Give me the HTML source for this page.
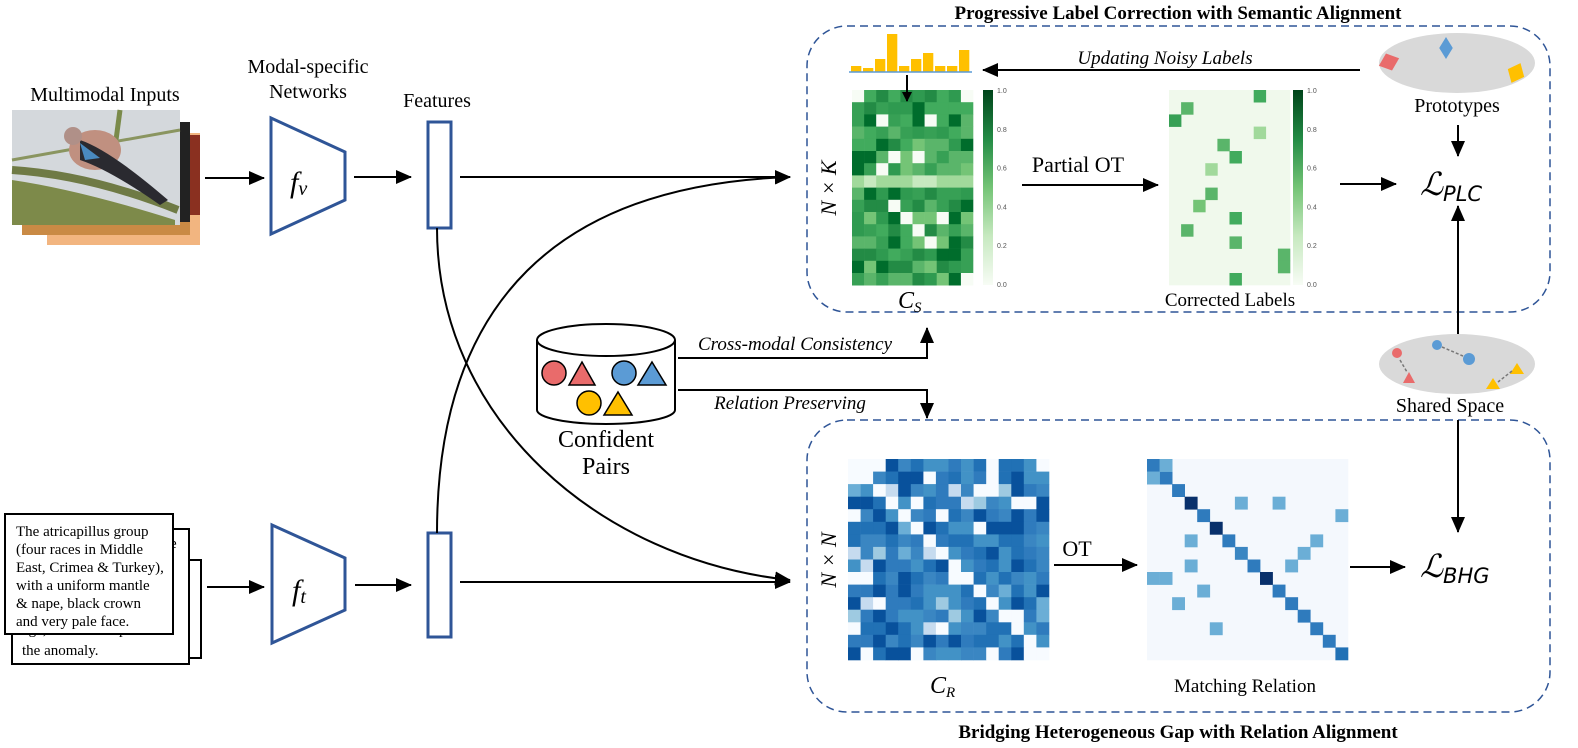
<!DOCTYPE html>
<html><head><meta charset="utf-8"><style>
html,body{margin:0;padding:0;background:#fff;}
svg{display:block;font-family:"Liberation Serif",serif;}
</style></head><body>
<svg id="s" width="1578" height="748" viewBox="0 0 1578 748" xmlns="http://www.w3.org/2000/svg">
<defs>
<marker id="ah" markerWidth="10" markerHeight="10" refX="9" refY="5" orient="auto" markerUnits="userSpaceOnUse"><path d="M0,0 L10,5 L0,10 z" fill="#000"/></marker>
<marker id="ah2" markerWidth="16" markerHeight="14" refX="15" refY="7" orient="auto" markerUnits="userSpaceOnUse"><path d="M0,0 L16,7 L0,14 z" fill="#000"/></marker>
<linearGradient id="gg" x1="0" y1="0" x2="0" y2="1"><stop offset="0" stop-color="#00441b"/><stop offset="0.25" stop-color="#238b45"/><stop offset="0.5" stop-color="#74c476"/><stop offset="0.75" stop-color="#c7e9c0"/><stop offset="1" stop-color="#f7fcf5"/></linearGradient>
</defs>
<rect x="807" y="26" width="743" height="286" rx="40" fill="none" stroke="#2f5597" stroke-width="1.5" stroke-dasharray="8,5"/>
<rect x="807" y="420" width="743" height="292" rx="40" fill="none" stroke="#2f5597" stroke-width="1.5" stroke-dasharray="8,5"/>
<text x="1178" y="19" font-size="19" font-weight="bold" text-anchor="middle">Progressive Label Correction with Semantic Alignment</text>
<text x="1178" y="738" font-size="19" font-weight="bold" text-anchor="middle">Bridging Heterogeneous Gap with Relation Alignment</text>

<rect x="47" y="133" width="153" height="112" fill="#f2b580"/>
<rect x="22" y="125" width="168" height="110" fill="#c98a45"/>
<rect x="170" y="122" width="20" height="100" fill="#222"/>
<rect x="190" y="135" width="10" height="80" fill="#8a3020"/>
<rect x="12" y="110" width="168" height="115" fill="#d4d8dc"/>
<path d="M12,180 Q80,190 175,220 L175,225 L12,225 z" fill="#7d8a4a"/>
<path d="M12,170 Q90,175 178,210" stroke="#6f7a45" stroke-width="8" fill="none"/>
<path d="M120,110 L112,170" stroke="#7a8a4a" stroke-width="5"/>
<path d="M12,160 L180,130" stroke="#8a9560" stroke-width="3"/>
<ellipse cx="95" cy="150" rx="26" ry="20" fill="#c09080"/>
<path d="M80,140 Q110,150 168,200 L160,205 Q110,170 80,160z" fill="#2a2a30"/>
<path d="M80,143 L100,158 L85,160z" fill="#4a8ac0"/>
<circle cx="73" cy="136" r="9" fill="#b09088"/>
<text x="105" y="101" font-size="20" text-anchor="middle">Multimodal Inputs</text>
<text x="308" y="73" font-size="20" text-anchor="middle">Modal-specific</text>
<text x="308" y="98" font-size="20" text-anchor="middle">Networks</text>
<text x="437" y="107" font-size="20" text-anchor="middle">Features</text>

<polygon points="271,118 345,152 345,200 271,234" fill="#fff" stroke="#2f5597" stroke-width="3"/>
<text x="290" y="192" font-size="30" font-style="italic">f<tspan font-size="20" dy="3">v</tspan></text>
<line x1="205" y1="178" x2="264" y2="178" stroke="#000" stroke-width="2" marker-end="url(#ah2)"/>
<line x1="354" y1="177" x2="411" y2="177" stroke="#000" stroke-width="2" marker-end="url(#ah2)"/>
<rect x="428" y="122" width="23" height="106" fill="#fff" stroke="#2f5597" stroke-width="3"/>
<line x1="460" y1="177" x2="790" y2="177" stroke="#000" stroke-width="2" marker-end="url(#ah2)"/>

<rect x="65" y="560" width="136" height="98" fill="#fff" stroke="#000" stroke-width="2"/>
<rect x="12" y="529" width="177" height="135" fill="#fff" stroke="#000" stroke-width="2"/>
<text x="22" y="634" font-size="15">age, in cats that possess</text>
<text x="22" y="655" font-size="15">the anomaly.</text>
<text x="170" y="548" font-size="15">e</text>
<rect x="5" y="514" width="168" height="120" fill="#fff" stroke="#000" stroke-width="2"/>
<text font-size="15"><tspan x="16" y="536">The atricapillus group</tspan><tspan x="16" y="554">(four races in Middle</tspan><tspan x="16" y="572">East, Crimea &amp; Turkey),</tspan><tspan x="16" y="590">with a uniform mantle</tspan><tspan x="16" y="608">&amp; nape, black crown</tspan><tspan x="16" y="626">and very pale face.</tspan></text>

<polygon points="272,525 345,558 345,610 272,643" fill="#fff" stroke="#2f5597" stroke-width="3"/>
<text x="292" y="600" font-size="30" font-style="italic">f<tspan font-size="20" dy="3">t</tspan></text>
<line x1="207" y1="587" x2="264" y2="587" stroke="#000" stroke-width="2" marker-end="url(#ah2)"/>
<line x1="355" y1="585" x2="411" y2="585" stroke="#000" stroke-width="2" marker-end="url(#ah2)"/>
<rect x="428" y="533" width="23" height="104" fill="#fff" stroke="#2f5597" stroke-width="3"/>
<line x1="460" y1="582" x2="790" y2="582" stroke="#000" stroke-width="2" marker-end="url(#ah2)"/>

<path d="M437,228 C437,420 600,560 790,580" fill="none" stroke="#000" stroke-width="2" marker-end="url(#ah2)"/>
<path d="M437,533 C437,300 560,185 790,177" fill="none" stroke="#000" stroke-width="2" marker-end="url(#ah2)"/>

<path d="M537,340 L537,410 A69,14 0 0 0 675,410 L675,340" fill="#fff" stroke="#000" stroke-width="2"/>
<ellipse cx="606" cy="340" rx="69" ry="16" fill="#fff" stroke="#000" stroke-width="2"/>
<circle cx="554" cy="373" r="12" fill="#e96b6b" stroke="#000" stroke-width="1.5"/>
<polygon points="582,362 595,385 569,385" fill="#e96b6b" stroke="#000" stroke-width="1.5"/>
<circle cx="624" cy="373" r="12" fill="#5b9bd5" stroke="#000" stroke-width="1.5"/>
<polygon points="652,362 666,385 638,385" fill="#5b9bd5" stroke="#000" stroke-width="1.5"/>
<circle cx="589" cy="403" r="12" fill="#ffc000" stroke="#000" stroke-width="1.5"/>
<polygon points="618,392 632,415 604,415" fill="#ffc000" stroke="#000" stroke-width="1.5"/>
<text x="606" y="447" font-size="24" text-anchor="middle">Confident</text>
<text x="606" y="474" font-size="24" text-anchor="middle">Pairs</text>
<polyline points="678,358 927,358 927,328" fill="none" stroke="#000" stroke-width="2" marker-end="url(#ah2)"/>
<polyline points="678,390 927,390 927,418" fill="none" stroke="#000" stroke-width="2" marker-end="url(#ah2)"/>
<text x="795" y="350" font-size="19" font-style="italic" text-anchor="middle">Cross-modal Consistency</text>
<text x="790" y="409" font-size="19" font-style="italic" text-anchor="middle">Relation Preserving</text>

<g id="hm"></g>

<line x1="849" y1="72" x2="972" y2="72" stroke="#5b9bd5" stroke-width="1.5"/>
<line x1="907" y1="75" x2="907" y2="101" stroke="#000" stroke-width="2" marker-end="url(#ah)"/>
<text transform="translate(836,188) rotate(-90)" font-size="22" font-style="italic" text-anchor="middle">N × K</text>
<text x="898" y="308" font-size="24" font-style="italic">C<tspan font-size="15" dy="4">S</tspan></text>
<text x="1078" y="172" font-size="22" text-anchor="middle">Partial OT</text>
<line x1="1022" y1="185" x2="1158" y2="185" stroke="#000" stroke-width="2" marker-end="url(#ah2)"/>
<text x="1230" y="306" font-size="19" text-anchor="middle">Corrected Labels</text>
<line x1="1340" y1="184" x2="1396" y2="184" stroke="#000" stroke-width="2" marker-end="url(#ah2)"/>
<text x="1420" y="195" font-size="32" font-style="italic">ℒ<tspan font-family="DejaVu Sans" font-size="21" dy="6">PLC</tspan></text>
<text x="1165" y="64" font-size="19" font-style="italic" text-anchor="middle">Updating Noisy Labels</text>
<line x1="1360" y1="70" x2="983" y2="70" stroke="#000" stroke-width="2" marker-end="url(#ah2)"/>

<ellipse cx="1457" cy="63" rx="78" ry="30" fill="#d9d9d9"/>
<rect x="-7" y="-7" width="14" height="14" fill="#e96b6b" transform="translate(1389,62) rotate(20) skewX(-10)"/>
<rect x="-6" y="-6" width="12" height="12" fill="#5b9bd5" transform="translate(1446,48) scale(0.8,1.3) rotate(45)"/>
<rect x="-7" y="-7" width="14" height="14" fill="#ffc000" transform="translate(1516,73) rotate(-25) skewX(-10)"/>
<text x="1457" y="112" font-size="20" text-anchor="middle">Prototypes</text>
<line x1="1458" y1="125" x2="1458" y2="156" stroke="#000" stroke-width="2" marker-end="url(#ah2)"/>
<line x1="1458" y1="337" x2="1458" y2="206" stroke="#000" stroke-width="2" marker-end="url(#ah2)"/>
<ellipse cx="1457" cy="364" rx="78" ry="30" fill="#d9d9d9"/>
<circle cx="1397" cy="353" r="5" fill="#e96b6b"/><polygon points="1409,372 1415,383 1403,383" fill="#e96b6b"/>
<circle cx="1437" cy="345" r="5" fill="#5b9bd5"/><circle cx="1469" cy="359" r="6" fill="#5b9bd5"/>
<polygon points="1517,363 1524,374 1510,374" fill="#ffc000"/><polygon points="1493,378 1500,389 1486,389" fill="#ffc000"/>
<path d="M1400,360 L1407,372 M1442,347 L1463,356 M1512,371 L1498,382" stroke="#777" stroke-width="1.5" stroke-dasharray="3,2"/>
<text x="1450" y="412" font-size="20" text-anchor="middle">Shared Space</text>
<line x1="1458" y1="420" x2="1458" y2="532" stroke="#000" stroke-width="2" marker-end="url(#ah2)"/>
<text x="1420" y="577" font-size="32" font-style="italic">ℒ<tspan font-family="DejaVu Sans" font-size="21" dy="6">BHG</tspan></text>

<text transform="translate(836,560) rotate(-90)" font-size="22" font-style="italic" text-anchor="middle">N × N</text>
<text x="930" y="693" font-size="24" font-style="italic">C<tspan font-size="15" dy="4">R</tspan></text>
<text x="1077" y="556" font-size="22" text-anchor="middle">OT</text>
<line x1="1054" y1="565" x2="1137" y2="565" stroke="#000" stroke-width="2" marker-end="url(#ah2)"/>
<text x="1245" y="692" font-size="19" text-anchor="middle">Matching Relation</text>
<line x1="1350" y1="567" x2="1405" y2="567" stroke="#000" stroke-width="2" marker-end="url(#ah2)"/>
</svg>
<script>
(function(){
var g=document.getElementById('hm'),h='';
var seed=7;function r(){seed=(seed*16807)%2147483647;return seed/2147483647;}
function R(x,y,w,hh,c){h+='<rect x="'+x.toFixed(1)+'" y="'+y.toFixed(1)+'" width="'+(w+0.3).toFixed(1)+'" height="'+(hh+0.3).toFixed(1)+'" fill="'+c+'"/>';}
var greens=['#f7fcf5','#c7e9c0','#a1d99b','#74c476','#5ab56a','#41ab5d','#37a055','#2f9a50','#238b45','#006d2c'];
var blues=['#f7fbff','#c6dbef','#9ecae1','#6baed6','#4292c6','#3a86c2','#2f7bbd','#2171b5','#08519c','#08306b'];
var bh=[6,4,13,38,6,13,19,6,6,22];
for(var i=0;i<10;i++)R(851+i*12,72-bh[i],10,bh[i],'#ffc000');
for(var y=0;y<16;y++)for(var x=0;x<10;x++){var v=r();var c=v<0.07?greens[0]:greens[3+Math.floor(r()*7)];if(y==7)c=greens[1+Math.floor(r()*2)];R(852+x*12.1,90+y*12.2,12.1,12.2,c);}
function cbar(x0){h+='<rect x="'+x0+'" y="90" width="10" height="195" fill="url(#gg)"/>';
 var lab=['1.0','0.8','0.6','0.4','0.2','0.0'];for(var k=0;k<6;k++)h+='<text x="'+(x0+14)+'" y="'+(93+k*38.8)+'" font-size="7" fill="#555" font-family="Liberation Sans">'+lab[k]+'</text>';}
cbar(983);cbar(1293);
R(1169,90,121,195,'#f0f9ec');
var cl=[[0,7,5],[1,1,4],[2,0,6],[3,7,2],[4,4,4],[5,5,5],[6,3,2],[8,3,4],[9,2,3],[10,5,5],[11,1,4],[12,5,4],[13,9,4],[14,9,4],[15,5,5]];
cl.forEach(function(a){R(1169+a[1]*12.1,90+a[0]*12.2,12.1,12.2,greens[a[2]]);});
for(var y=0;y<16;y++)for(var x=0;x<16;x++){var c;if(x==y)c=blues[0];else{var v=r();c=v<0.07?blues[0]:v<0.17?blues[1+Math.floor(r()*3)]:blues[4+Math.floor(r()*5)];}
 if((y<2&&x<2)||(y==9&&x<2)||(y<2&&x==11))c=blues[0];R(848+x*12.56,459+y*12.56,12.56,12.56,c);}
R(1147,459,201,201,'#f4f8fd');
for(var i=0;i<16;i++)R(1147+i*12.56,459+i*12.56,12.56,12.56,[blues[6],blues[6],blues[6],blues[9],blues[6],blues[9],blues[6],blues[5],blues[6],blues[9],blues[6],blues[6],blues[6],blues[6],blues[6],blues[7]][i]);
[[0,1],[1,0],[6,3],[8,3],[9,0],[9,1],[10,4],[11,2],[13,5],[3,7],[3,10],[6,13],[7,12],[4,15],[8,11]].forEach(function(a){R(1147+a[1]*12.56,459+a[0]*12.56,12.56,12.56,blues[3]);});
g.innerHTML=h;
})();
</script>
</body></html>
